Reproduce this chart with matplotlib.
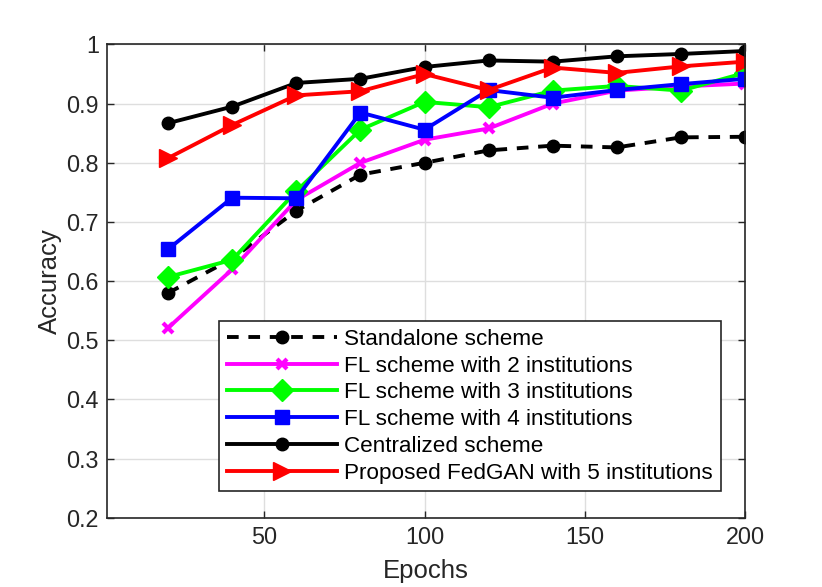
import matplotlib
matplotlib.use("Agg")
import matplotlib.pyplot as plt

epochs = [20, 40, 60, 80, 100, 120, 140, 160, 180, 200]
standalone = [0.580, 0.638, 0.719, 0.780, 0.800, 0.821, 0.829, 0.826, 0.843, 0.844]
fl2 = [0.521, 0.620, 0.737, 0.800, 0.839, 0.858, 0.900, 0.922, 0.929, 0.934]
fl3 = [0.607, 0.636, 0.752, 0.856, 0.903, 0.894, 0.922, 0.930, 0.922, 0.952]
fl4 = [0.654, 0.741, 0.740, 0.885, 0.856, 0.923, 0.910, 0.923, 0.933, 0.942]
central = [0.867, 0.895, 0.935, 0.942, 0.962, 0.973, 0.971, 0.980, 0.984, 0.989]
fedgan = [0.808, 0.864, 0.914, 0.921, 0.950, 0.923, 0.961, 0.952, 0.963, 0.971]
labels = ["Standalone scheme", "FL scheme with 2 institutions",
          "FL scheme with 3 institutions", "FL scheme with 4 institutions",
          "Centralized scheme", "Proposed FedGAN with 5 institutions"]
xticks = [50, 100, 150, 200]
yticks = [0.2, 0.3, 0.4, 0.5, 0.6, 0.7, 0.8, 0.9, 1.0]
ytick_labels = ["0.2", "0.3", "0.4", "0.5", "0.6", "0.7", "0.8", "0.9", "1"]

plt.rcParams['font.family'] = ['Liberation Sans', 'DejaVu Sans']
fig = plt.figure(figsize=(8.22, 5.87), dpi=100)
ax = fig.add_axes([0.1305, 0.118, 0.7758, 0.8062])

lw = 2.8
ax.plot(epochs, standalone, color='black', ls=(0, (3.0, 2.5)), lw=lw, marker='o', ms=9, label=labels[0])
ax.plot(epochs, fl2, color='#ff00ff', lw=lw, marker='x', ms=7, mew=3, label=labels[1])
ax.plot(epochs, fl3, color='#00ff00', lw=lw, marker='D', ms=11, label=labels[2])
ax.plot(epochs, fl4, color='#0000ff', lw=lw, marker='s', ms=10, label=labels[3])
ax.plot(epochs, central, color='black', lw=lw, marker='o', ms=9, label=labels[4])
ax.plot(epochs, fedgan, color='#ff0000', lw=lw, marker='>', ms=13, label=labels[5])

ax.set_xlim(1, 200)
ax.set_ylim(0.2, 1.0)
ax.set_xticks(xticks)
ax.set_yticks(yticks)
ax.set_yticklabels(ytick_labels)
ax.grid(True, color='#dedede', lw=1.0)
ax.set_axisbelow(True)
for s in ax.spines.values():
    s.set_color('#262626')
    s.set_linewidth(1.2)
ax.tick_params(direction='in', length=5, width=1, colors='#262626', labelsize=16.8,
               top=True, right=True, pad=6)
ax.set_xlabel("Epochs", fontsize=18.5, color='#262626', labelpad=7)
ax.set_ylabel("Accuracy", fontsize=18.5, color='#262626', labelpad=3)

leg = ax.legend(loc='upper right', bbox_to_anchor=(0.962, 0.4157), fontsize=16.2,
                handlelength=4.9, handletextpad=0.3, labelspacing=0.255, borderpad=0.35,
                borderaxespad=0, fancybox=False, framealpha=1, edgecolor='#262626',
                numpoints=1)
leg.get_frame().set_linewidth(1.2)
for t in leg.get_texts():
    t.set_color('black')

fig.savefig("out.png", dpi=100)
